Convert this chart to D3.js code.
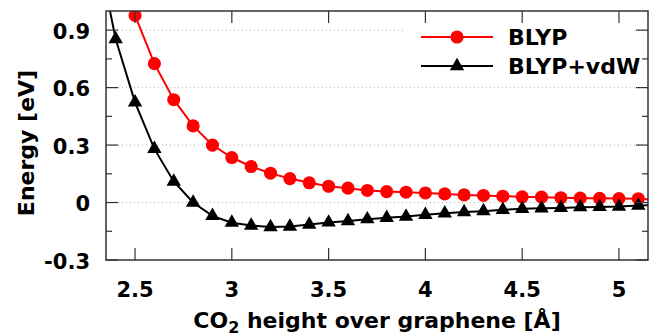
<!DOCTYPE html>
<html>
<head>
<meta charset="utf-8">
<script src="https://cdn.jsdelivr.net/npm/d3@7"></script>
<style>
  body { margin: 0; background: #fff; }
  text { font-family: "DejaVu Sans", sans-serif; font-weight: bold; fill: #000; }
</style>
</head>
<body>
<div id="chart"></div>
<script>
// CO2 height over graphene [Å]
let heights = [2.3, 2.4, 2.5, 2.6, 2.7, 2.8, 2.9, 3.0, 3.1, 3.2, 3.3, 3.4, 3.5, 3.6, 3.7, 3.8, 3.9, 4.0,
    4.1, 4.2, 4.3, 4.4, 4.5, 4.6, 4.7, 4.8, 4.9, 5.0, 5.1, 5.2];
// energies [eV], null where not computed
let blyp = [null, null, 0.977, 0.725, 0.537, 0.40, 0.30, 0.235, 0.188, 0.153, 0.125, 0.103, 0.085, 0.075,
    0.063, 0.057, 0.054, 0.05, 0.045, 0.04, 0.037, 0.033, 0.03, 0.028, 0.025, 0.023, 0.022, 0.021, 0.02, 0.015];
let blypVdw = [1.35, 0.854, 0.523, 0.28, 0.11, 0.0, -0.07, -0.105, -0.12, -0.128, -0.125, -0.115, -0.104,
    -0.097, -0.087, -0.08, -0.073, -0.064, -0.056, -0.05, -0.045, -0.038, -0.033, -0.03, -0.028, -0.024,
    -0.023, -0.021, -0.016, -0.013];
let xTicks = [2.5, 3, 3.5, 4, 4.5, 5];
let yTicks = [-0.3, 0, 0.3, 0.6, 0.9];
let yMinor = [-0.15, 0.15, 0.45, 0.75];
let seriesNames = ["BLYP", "BLYP+vdW"];
let seriesColors = ["#ff0000", "#000000"];

let w = 670, h = 336;
let margin = {top: 11, right: 22, bottom: 76, left: 106};
let width = w - margin.left - margin.right;
let height = h - margin.top - margin.bottom;

let x = d3.scaleLinear().domain([2.35, 5.15]).range([0, width]);
let y = d3.scaleLinear().domain([-0.3, 1.0]).range([height, 0]);

let svg = d3.create("svg").attr("width", w).attr("height", h);
let g = svg.append("g").attr("transform", `translate(${margin.left}, ${margin.top})`);

svg.append("defs").append("clipPath").attr("id", "clip")
    .append("rect").attr("width", width).attr("height", height);

// dotted grid on major y ticks
g.selectAll(".grid").data(yTicks.filter(d => d > -0.3))
    .join("line")
    .attr("x1", 0).attr("x2", width)
    .attr("y1", d => y(d)).attr("y2", d => y(d))
    .attr("stroke", "#b0b0b0").attr("stroke-width", 1)
    .attr("stroke-dasharray", "1,3");

// series
let data = [blyp, blypVdw].map(vals => heights.map((hh, i) => [hh, vals[i]]).filter(d => d[1] !== null));
let line = d3.line().x(d => x(d[0])).y(d => y(d[1]));
let plot = g.append("g").attr("clip-path", "url(#clip)");

let tri = d3.symbol().type(d3.symbolTriangle).size(90);
let circ = d3.symbol().type(d3.symbolCircle).size(135);

data.forEach((pts, k) => {
    plot.append("path").datum(pts)
        .attr("fill", "none")
        .attr("stroke", seriesColors[k])
        .attr("stroke-width", 2)
        .attr("d", line);
});
// draw markers afterwards so the lines sit underneath
data.forEach((pts, k) => {
    plot.selectAll(".m" + k).data(pts).join("path")
        .attr("transform", d => `translate(${x(d[0])}, ${y(d[1])})`)
        .attr("fill", seriesColors[k])
        .attr("d", k === 0 ? circ : tri);
});

// legend box (white, hides grid)
let lg = g.append("g").attr("transform", `translate(297, 0)`);
lg.append("rect").attr("x", 0).attr("y", 6).attr("width", 230).attr("height", 66).attr("fill", "#fff");
seriesNames.forEach((name, k) => {
    let ly = 26 + k * 29;
    lg.append("line").attr("x1", 18).attr("x2", 90).attr("y1", ly).attr("y2", ly)
        .attr("stroke", seriesColors[k]).attr("stroke-width", 2);
    lg.append("path").attr("transform", `translate(54, ${ly})`)
        .attr("fill", seriesColors[k]).attr("d", k === 0 ? circ : tri);
    lg.append("text").attr("x", 105).attr("y", ly).attr("dy", "0.36em")
        .attr("font-size", 22).text(name);
});

// frame
g.append("rect").attr("width", width).attr("height", height)
    .attr("fill", "none").attr("stroke", "#333").attr("stroke-width", 1.5);

// ticks (mirrored on top and right)
let tickG = g.append("g");
xTicks.forEach(d => {
    tickG.append("line").attr("x1", x(d)).attr("x2", x(d)).attr("y1", height).attr("y2", height - 12);
    tickG.append("line").attr("x1", x(d)).attr("x2", x(d)).attr("y1", 0).attr("y2", 12);
    g.append("text").attr("x", x(d)).attr("y", height + 37).attr("text-anchor", "middle")
        .attr("font-size", 21).text(d);
});
yTicks.forEach(d => {
    tickG.append("line").attr("x1", 0).attr("x2", 12).attr("y1", y(d)).attr("y2", y(d));
    tickG.append("line").attr("x1", width).attr("x2", width - 12).attr("y1", y(d)).attr("y2", y(d));
    g.append("text").attr("x", -16).attr("y", y(d)).attr("dy", "0.42em").attr("text-anchor", "end")
        .attr("font-size", 21).text(d);
});
yMinor.forEach(d => {
    tickG.append("line").attr("x1", 0).attr("x2", 6).attr("y1", y(d)).attr("y2", y(d));
    tickG.append("line").attr("x1", width).attr("x2", width - 6).attr("y1", y(d)).attr("y2", y(d));
});
tickG.selectAll("line").attr("stroke", "#333").attr("stroke-width", 1.2);

// axis titles
let xt = svg.append("text").attr("x", margin.left + width / 2).attr("y", h - 8)
    .attr("text-anchor", "middle").attr("font-size", 22);
xt.append("tspan").text("CO");
xt.append("tspan").attr("font-size", 16).attr("dy", 5).text("2");
xt.append("tspan").attr("dy", -5).text(" height over graphene [Å]");

svg.append("text").attr("transform", `translate(34, 143) rotate(-90)`)
    .attr("text-anchor", "middle").attr("font-size", 22).text("Energy [eV]");

d3.select("#chart").append(() => svg.node());
</script>
</body>
</html>
